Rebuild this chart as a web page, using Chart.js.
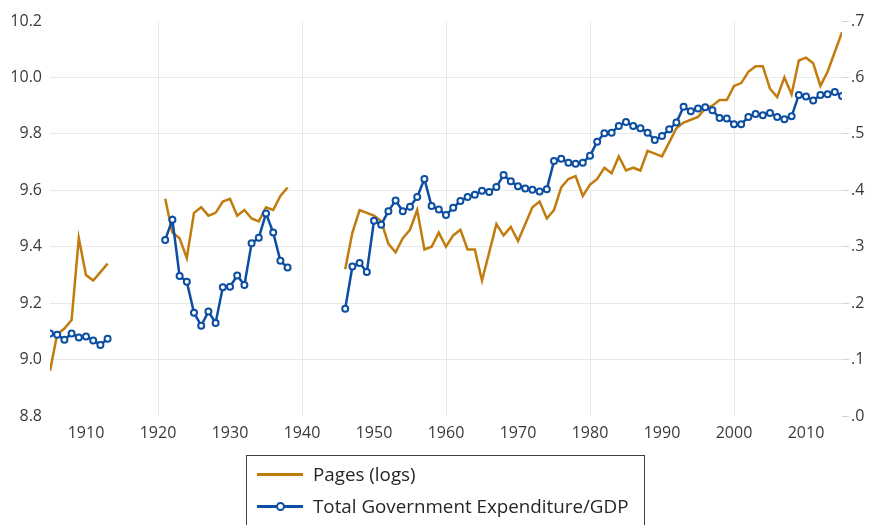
<!DOCTYPE html>
<html>
<head>
<meta charset="utf-8">
<script src="https://cdn.jsdelivr.net/npm/chart.js@4.4.1/dist/chart.umd.min.js"></script>
<style>
  html, body { margin: 0; padding: 0; background: #fff; }
  #wrap { position: relative; width: 872px; height: 525px; overflow: hidden; }
  #legend {
    position: absolute; left: 246px; top: 455px; width: 397px; height: 90px;
    border: 1.5px solid #404040; font-family: "Open Sans", sans-serif; font-size: 18.8px; color: #262626;
  }
  .item { position: absolute; left: 10px; height: 24px; display: flex; align-items: center; white-space: nowrap; }
  .swatch { position: relative; width: 46px; height: 3px; margin-right: 10px; }
  .dot { position: absolute; left: 50%; top: 50%; width: 5px; height: 5px; margin: -4.5px 0 0 -4.5px;
         border: 2px solid; border-radius: 50%; background: #fff; }
</style>
</head>
<body>
<div id="wrap">
  <canvas id="myChart" width="872" height="525"></canvas>
  <div id="legend"></div>
</div>
<script>
var years = [
  1905, 1906, 1907, 1908, 1909, 1910, 1911, 1912, 1913, 1914,
  1915, 1916, 1917, 1918, 1919, 1920, 1921, 1922, 1923, 1924,
  1925, 1926, 1927, 1928, 1929, 1930, 1931, 1932, 1933, 1934,
  1935, 1936, 1937, 1938, 1939, 1940, 1941, 1942, 1943, 1944,
  1945, 1946, 1947, 1948, 1949, 1950, 1951, 1952, 1953, 1954,
  1955, 1956, 1957, 1958, 1959, 1960, 1961, 1962, 1963, 1964,
  1965, 1966, 1967, 1968, 1969, 1970, 1971, 1972, 1973, 1974,
  1975, 1976, 1977, 1978, 1979, 1980, 1981, 1982, 1983, 1984,
  1985, 1986, 1987, 1988, 1989, 1990, 1991, 1992, 1993, 1994,
  1995, 1996, 1997, 1998, 1999, 2000, 2001, 2002, 2003, 2004,
  2005, 2006, 2007, 2008, 2009, 2010, 2011, 2012, 2013, 2014,
  2015
];

// pages (logs), left axis
var pages = [
  8.96, 9.09, 9.11, 9.14, 9.43, 9.30, 9.28, 9.31, 9.34, null,
  null, null, null, null, null, null, 9.57, 9.45, 9.43, 9.36,
  9.52, 9.54, 9.51, 9.52, 9.56, 9.57, 9.51, 9.53, 9.50, 9.49,
  9.54, 9.53, 9.58, 9.61, null, null, null, null, null, null,
  null, 9.32, 9.45, 9.53, 9.52, 9.51, 9.49, 9.41, 9.38, 9.43,
  9.46, 9.53, 9.39, 9.40, 9.45, 9.40, 9.44, 9.46, 9.39, 9.39,
  9.28, 9.38, 9.48, 9.44, 9.47, 9.42, 9.48, 9.54, 9.56, 9.50,
  9.53, 9.61, 9.64, 9.65, 9.58, 9.62, 9.64, 9.68, 9.66, 9.72,
  9.67, 9.68, 9.67, 9.74, 9.73, 9.72, 9.77, 9.82, 9.84, 9.85,
  9.86, 9.89, 9.90, 9.92, 9.92, 9.97, 9.98, 10.02, 10.04, 10.04,
  9.96, 9.93, 10.00, 9.94, 10.06, 10.07, 10.05, 9.97, 10.02, 10.09,
  10.16
];

// total government expenditure / GDP, right axis
var expenditure = [
  0.146, 0.144, 0.135, 0.146, 0.139, 0.141, 0.134, 0.126, 0.137, null,
  null, null, null, null, null, null, 0.312, 0.348, 0.248, 0.238,
  0.183, 0.160, 0.185, 0.165, 0.228, 0.229, 0.249, 0.232, 0.306, 0.316,
  0.359, 0.325, 0.275, 0.263, null, null, null, null, null, null,
  null, 0.190, 0.265, 0.271, 0.255, 0.346, 0.339, 0.363, 0.382, 0.363,
  0.371, 0.388, 0.420, 0.372, 0.366, 0.356, 0.369, 0.381, 0.388, 0.392,
  0.399, 0.397, 0.406, 0.427, 0.416, 0.407, 0.403, 0.401, 0.398, 0.402,
  0.452, 0.456, 0.449, 0.447, 0.449, 0.461, 0.486, 0.501, 0.502, 0.514,
  0.521, 0.514, 0.510, 0.502, 0.489, 0.496, 0.508, 0.520, 0.548, 0.540,
  0.545, 0.547, 0.542, 0.528, 0.527, 0.517, 0.517, 0.530, 0.535, 0.533,
  0.537, 0.530, 0.526, 0.531, 0.569, 0.566, 0.559, 0.569, 0.570, 0.574,
  0.567
];

var xTicks = [1910, 1920, 1930, 1940, 1950, 1960, 1970, 1980, 1990, 2000, 2010];
var xGridYears = [1920, 1940, 1960, 1980, 2000];
var leftTicks = [8.8, 9.0, 9.2, 9.4, 9.6, 9.8, 10.0, 10.2];
var rightTicks = [0, 0.1, 0.2, 0.3, 0.4, 0.5, 0.6, 0.7];

var orange = '#C27C0E';
var blue = '#0C4EA2';
var gridColor = '#e9e9e9';
var tickFont = { family: '"Open Sans", sans-serif', size: 16 };

function toPoints(values) {
  return years.map(function (y, i) { return { x: y, y: values[i] }; });
}

var ctx = document.getElementById('myChart').getContext('2d');

var myChart = new Chart(ctx, {
  type: 'line',
  data: {
    datasets: [
      {
        label: 'Pages (logs)',
        data: toPoints(pages),
        yAxisID: 'y',
        borderColor: orange,
        borderWidth: 2.5,
        pointRadius: 0,
        fill: false,
        order: 1
      },
      {
        label: 'Total Government Expenditure/GDP',
        data: toPoints(expenditure),
        yAxisID: 'y1',
        borderColor: blue,
        borderWidth: 2.5,
        pointRadius: 3,
        pointBorderWidth: 2,
        pointBackgroundColor: '#fff',
        pointBorderColor: blue,
        fill: false,
        order: 0
      }
    ]
  },
  options: {
    responsive: false,
    animation: false,
    spanGaps: false,
    layout: { padding: { top: 21, bottom: 83 } },
    plugins: {
      legend: { display: false },
      tooltip: { enabled: false }
    },
    scales: {
      x: {
        type: 'linear',
        min: years[0],
        max: years[years.length - 1],
        border: { display: false },
        afterBuildTicks: function (s) { s.ticks = xTicks.map(function (v) { return { value: v }; }); },
        grid: {
          drawTicks: false,
          color: function (c) {
            var v = c.tick ? c.tick.value : 0;
            return xGridYears.indexOf(v) >= 0 ? gridColor : 'rgba(0,0,0,0)';
          }
        },
        ticks: {
          autoSkip: false,
          maxRotation: 0,
          padding: 8,
          color: '#3a3a3a',
          font: tickFont,
          callback: function (v) { return String(v); }
        },
        afterFit: function (s) { s.height = 26; }
      },
      y: {
        position: 'left',
        min: leftTicks[0],
        max: leftTicks[leftTicks.length - 1],
        border: { display: false },
        grid: {
          drawTicks: false,
          color: function (c) {
            var v = c.tick ? c.tick.value : 0;
            return (v > leftTicks[0] + 0.05 && v < leftTicks[leftTicks.length - 1] - 0.05) ? gridColor : 'rgba(0,0,0,0)';
          }
        },
        afterBuildTicks: function (s) { s.ticks = leftTicks.map(function (v) { return { value: v }; }); },
        ticks: {
          padding: 8,
          color: '#3a3a3a',
          font: tickFont,
          callback: function (v) { return Number(v).toFixed(1); }
        },
        afterFit: function (s) { s.width = 50; }
      },
      y1: {
        position: 'right',
        min: rightTicks[0],
        max: rightTicks[rightTicks.length - 1],
        border: { display: false },
        grid: { drawOnChartArea: false, tickLength: 7, color: '#d4d4d4' },
        afterBuildTicks: function (s) { s.ticks = rightTicks.map(function (v) { return { value: v }; }); },
        ticks: {
          padding: 2,
          color: '#3a3a3a',
          font: tickFont,
          callback: function (v) { return Number(v).toFixed(1).replace(/^0/, ''); }
        },
        afterFit: function (s) { s.width = 30; }
      }
    }
  }
});

// legend box under the chart, built from the datasets
var legend = document.getElementById('legend');
myChart.data.datasets.forEach(function (ds, i) {
  var item = document.createElement('div');
  item.className = 'item';
  item.style.top = (6 + i * 32) + 'px';
  var sw = document.createElement('span');
  sw.className = 'swatch';
  sw.style.background = ds.borderColor;
  if (ds.pointRadius > 0) {
    var dot = document.createElement('span');
    dot.className = 'dot';
    dot.style.borderColor = ds.borderColor;
    sw.appendChild(dot);
  }
  var txt = document.createElement('span');
  txt.textContent = ds.label;
  item.appendChild(sw);
  item.appendChild(txt);
  legend.appendChild(item);
});
</script>
</body>
</html>
